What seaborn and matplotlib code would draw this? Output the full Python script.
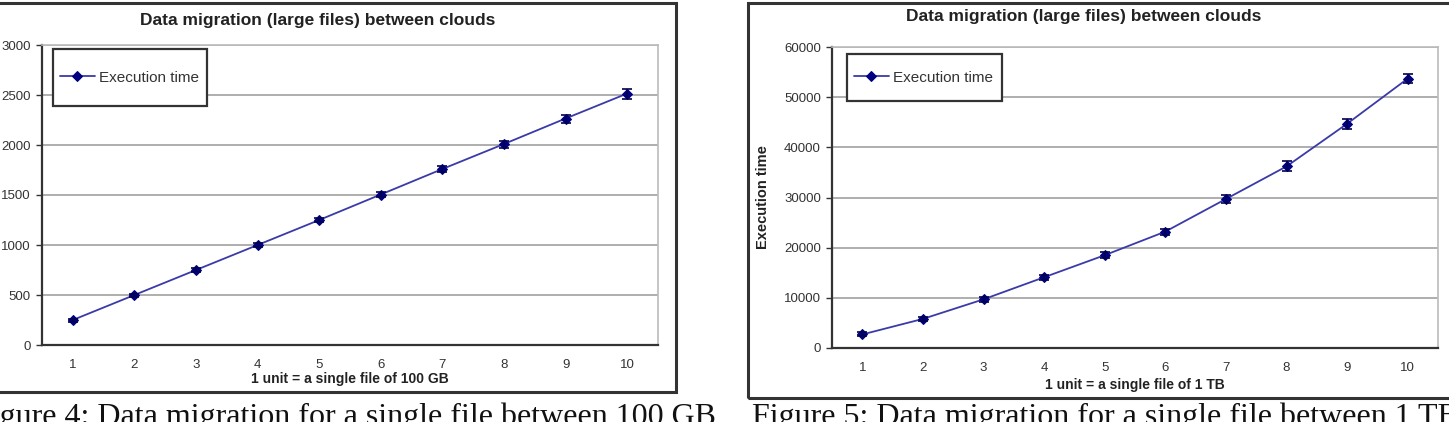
import matplotlib
matplotlib.use("Agg")
import matplotlib.pyplot as plt
from matplotlib.patches import Rectangle
import numpy as np
import pandas as pd
import seaborn as sns

# ---- data ----
units = [1, 2, 3, 4, 5, 6, 7, 8, 9, 10]
time_100gb = [250, 500, 750, 1000, 1250, 1505, 1760, 2010, 2265, 2515]
err_100gb = [15, 15, 20, 22, 22, 28, 32, 35, 40, 50]
time_1tb = [2700, 5800, 9700, 14100, 18500, 23200, 29700, 36200, 44700, 53700]
err_1tb = [400, 450, 500, 500, 550, 600, 700, 1000, 1000, 900]

title = "Data migration (large files) between clouds"
xlabel_left = "1 unit = a single file of 100 GB"
xlabel_right = "1 unit = a single file of 1 TB"
ylabel_right = "Execution time"
series_name = "Execution time"
caption_left = "Figure 4: Data migration for a single file between 100 GB"
caption_right = "Figure 5: Data migration for a single file between 1 TB"

sns.set_theme(style="white")
plt.rcParams["font.family"] = ["Liberation Sans", "DejaVu Sans"]

W, H = 1449, 422
fig = plt.figure(figsize=(W / 100, H / 100), dpi=100)
fig.patch.set_facecolor("white")


def fx(px):
    return px / W


def fy(py):
    return 1 - py / H


LINE_C = "#3a3aa8"
MARK_C = "#000080"


def make_panel(rect, y, err, ymax, ystep, xlabel, ylabel, title_xy, xlabel_y, leg_box):
    ax = fig.add_axes(rect)
    df = pd.DataFrame({"unit": units, "time": y})
    sns.lineplot(data=df, x="unit", y="time", ax=ax, color=LINE_C, lw=1.3,
                 marker="D", markersize=5.5, markerfacecolor=MARK_C,
                 markeredgecolor=MARK_C, label=series_name, legend=False)
    ax.errorbar(units, y, yerr=err, fmt="none", ecolor="#000050", elinewidth=1.2,
                capsize=3.5, capthick=1.2, zorder=4)
    ax.set_xlim(0.5, 10.5)
    ax.set_ylim(0, ymax)
    ax.set_yticks(np.arange(0, ymax + 1, ystep))
    ax.set_xticks(units)
    ax.set_xticks(np.arange(0.5, 11, 1.0), minor=True)
    ax.tick_params(axis="x", which="major", length=0, labelsize=9.5, labelcolor="#333333", pad=10)
    ax.tick_params(axis="x", which="minor", length=4, width=1, color="#333333", direction="out")
    ax.tick_params(axis="y", which="major", length=4, width=1, color="#333333", direction="out",
                   labelsize=9.5, labelcolor="#333333", left=True, pad=4)
    ax.grid(axis="y", color="#999999", lw=1.1)
    ax.set_axisbelow(True)
    for s in ("top", "right"):
        ax.spines[s].set_color("#bbbbbb")
        ax.spines[s].set_linewidth(1.2)
    for s in ("left", "bottom"):
        ax.spines[s].set_color("#333333")
        ax.spines[s].set_linewidth(1.6)
    ax.set_xlabel("")
    ax.set_ylabel(ylabel, fontsize=10.5, fontweight="bold", color="#222222", labelpad=10)
    fig.text(fx(title_xy[0]), fy(title_xy[1]), title, ha="center", va="center",
             fontsize=12.5, fontweight="bold", color="#222222")
    axc = (rect[0] + rect[0] + rect[2]) / 2
    fig.text(axc, fy(xlabel_y), xlabel, ha="center", va="center",
             fontsize=10, fontweight="bold", color="#222222")
    # legend box (Excel style: tall box, tight horizontal padding)
    x0, y0, x1, y1 = leg_box
    box = Rectangle((fx(x0), fy(y1)), fx(x1 - x0), (y1 - y0) / H,
                    transform=fig.transFigure, facecolor="white",
                    edgecolor="#333333", lw=1.6, zorder=3, clip_on=False)
    ax.add_patch(box)
    leg = ax.legend(loc="center left", bbox_to_anchor=(fx(x0 + 2), fy((y0 + y1) / 2)),
                    bbox_transform=fig.transFigure,
                    frameon=False, fontsize=11, borderpad=0,
                    handlelength=2.3, handletextpad=0.25, borderaxespad=0.3)
    leg.set_zorder(6)
    for t in leg.get_texts():
        t.set_color("#333333")
    return ax


# left panel
make_panel([fx(42), fy(345), fx(658 - 42), (345 - 45) / H],
           time_100gb, err_100gb, 3000, 500, xlabel_left, "",
           (318, 21), 379, (53, 49, 207, 106))
# right panel
make_panel([fx(832), fy(348), fx(1438 - 832), (348 - 47) / H],
           time_1tb, err_1tb, 60000, 10000, xlabel_right, ylabel_right,
           (1084, 17), 385, (847, 54, 1002, 101))

# outer chart borders
fig.patches.append(Rectangle((fx(-20), fy(392)), fx(676 + 20), (392 - 3) / H,
                             transform=fig.transFigure, fill=False,
                             edgecolor="#333333", lw=2.2, zorder=10))
fig.patches.append(Rectangle((fx(748), fy(398)), fx(720), (398 - 3) / H,
                             transform=fig.transFigure, fill=False,
                             edgecolor="#333333", lw=2.2, zorder=10))

# captions (partially cut off as in the source screenshot)
cap_font = ["Liberation Serif", "DejaVu Serif"]
fig.text(fx(716), fy(403), caption_left, ha="right", va="top", fontsize=23,
         family=cap_font, color="#111111")
fig.text(fx(752), fy(403), caption_right, ha="left", va="top", fontsize=23,
         family=cap_font, color="#111111")

fig.savefig("out.png", dpi=100, facecolor="white")
